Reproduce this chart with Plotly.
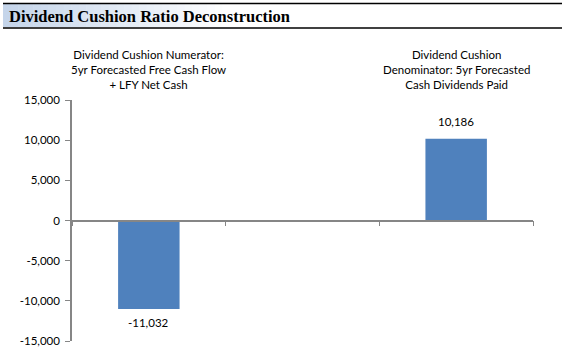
import plotly.graph_objects as go

categories = ["Dividend Cushion Numerator:<br>5yr Forecasted Free Cash Flow<br>+ LFY Net Cash",
              "",
              "Dividend Cushion<br>Denominator: 5yr Forecasted<br>Cash Dividends Paid"]
values = [-11032, None, 10186]
value_labels = ["-11,032", "", "10,186"]
y_tickvals = [15000, 10000, 5000, 0, -5000, -10000, -15000]
y_ticktext = ["15,000", "10,000", "5,000", "0", "-5,000", "-10,000", "-15,000"]
title = "Dividend Cushion Ratio Deconstruction"

W, H = 562, 352
L, R, T, B = 72, 29, 100, 11
pw, ph = W - L - R, H - T - B

def px_x(x):
    return (x - L) / pw

def px_y(y):
    return (H - B - y) / ph

font = "Lato, 'Open Sans', sans-serif"
xs = [0, 1, 2]

fig = go.Figure()
fig.add_trace(go.Bar(
    x=xs, y=values, width=0.4, marker=dict(color="#4F81BD", line=dict(width=0)),
    hoverinfo="skip"))

shapes = []
# gradient title background
n = 30
x0, x1 = 3, 230
c0 = (197, 213, 234)
for i in range(n):
    t = i / (n - 1)
    c = tuple(int(round(c0[k] + (255 - c0[k]) * t)) for k in range(3))
    sx0 = x0 + (x1 - x0) * i / n
    sx1 = x0 + (x1 - x0) * (i + 1) / n + 0.5
    shapes.append(dict(type="rect", xref="paper", yref="paper",
                       x0=px_x(sx0), x1=px_x(sx1), y0=px_y(27), y1=px_y(4),
                       fillcolor="rgb(%d,%d,%d)" % c, line=dict(width=0), layer="below"))
for yy in (3.5, 28):
    shapes.append(dict(type="line", xref="paper", yref="paper",
                       x0=px_x(3), x1=px_x(562), y0=px_y(yy), y1=px_y(yy),
                       line=dict(color="#000", width=1.6)))

annotations = [dict(text="<b>" + title + "</b>", xref="paper", yref="paper",
                    x=px_x(7), y=px_y(17), xanchor="left", yanchor="middle",
                    showarrow=False, font=dict(family="'Liberation Serif', 'Times New Roman', serif", size=16.5, color="#000"))]
for i, c in enumerate(categories):
    if c:
        annotations.append(dict(text=c, xref="x", yref="paper", x=xs[i], y=px_y(46),
                                xanchor="center", yanchor="top", showarrow=False,
                                font=dict(family=font, size=11.5, color="#000")))
for i, v in enumerate(values):
    if v is not None:
        annotations.append(dict(text=value_labels[i], xref="x", yref="y", x=xs[i], y=v,
                                xanchor="center", yanchor="middle", showarrow=False,
                                yshift=17 if v > 0 else -13,
                                font=dict(family=font, size=11.5, color="#000")))

fig.update_layout(
    width=W, height=H, margin=dict(l=L, r=R, t=T, b=B, autoexpand=False),
    paper_bgcolor="white", plot_bgcolor="white", showlegend=False,
    shapes=shapes, annotations=annotations,
    xaxis=dict(range=[-0.5, 2.5], anchor="free", position=0.5, showline=True,
               linecolor="#868686", linewidth=1.5, tickvals=[-0.5, 0.5, 1.5, 2.5],
               ticks="outside", ticklen=5, tickcolor="#868686", showticklabels=False,
               showgrid=False, zeroline=False, automargin=False),
    yaxis=dict(range=[-15000, 15000], tickvals=y_tickvals, ticktext=y_ticktext,
               showline=True, linecolor="#868686", linewidth=1.5, ticks="outside",
               ticklen=5, tickcolor="#868686", showgrid=False, zeroline=False,
               automargin=False, ticklabelstandoff=3,
               tickfont=dict(family=font, size=11.5, color="#000")),
)
fig.write_html("out.html")
